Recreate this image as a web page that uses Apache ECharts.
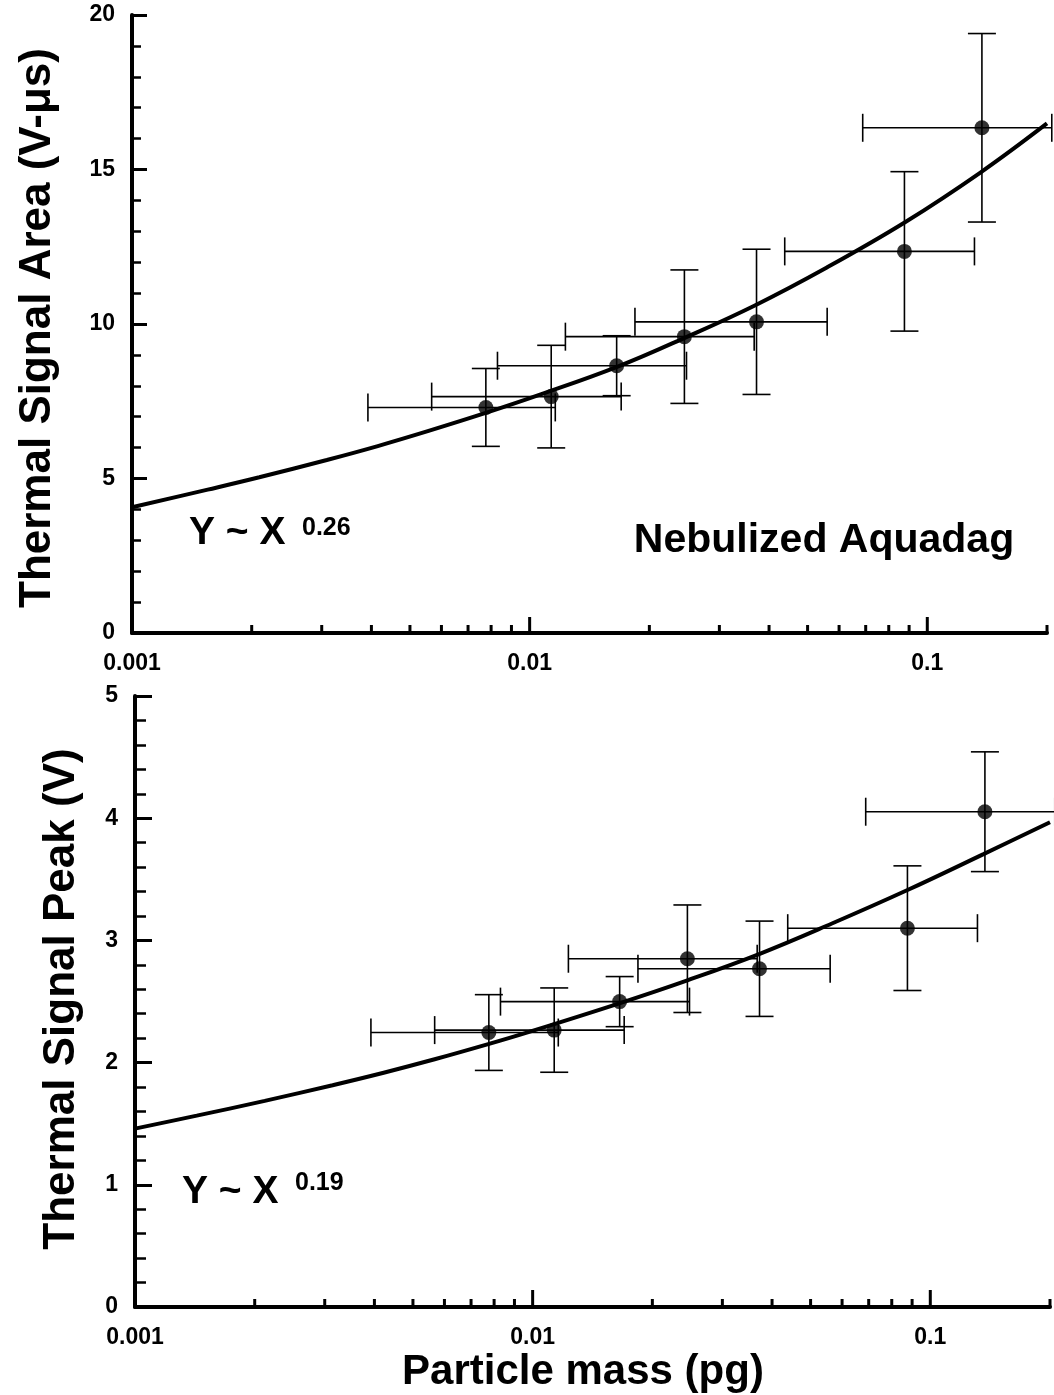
<!DOCTYPE html>
<html>
<head>
<meta charset="utf-8">
<script src="https://cdn.jsdelivr.net/npm/echarts@6/dist/echarts.min.js"></script>
<style>
  html, body { margin: 0; padding: 0; background: #fff; }
  #chart { width: 1054px; height: 1395px; }
</style>
</head>
<body>
<div id="chart"></div>
<script>
// particle mass (pg) and its +/- spread, same particles in both panels
const massValues = [0.00776, 0.01133, 0.01655, 0.0245, 0.0372, 0.0876, 0.1372]
const massErrors = [0.00384, 0.00566, 0.00825, 0.0122, 0.0188, 0.0438, 0.0684]

// top panel: thermal signal area (V-us)
const areaValues = [7.30, 7.65, 8.65, 9.59, 10.07, 12.35, 16.35]
const areaErrors = [1.26, 1.66, 0.97, 2.16, 2.35, 2.58, 3.05]
// fitted curve Y ~ X^0.26
const areaFitX = [0.001, 0.00155, 0.00209, 0.00309, 0.00415, 0.00557, 0.00779, 0.01044, 0.01665, 0.02462, 0.03684, 0.05576, 0.0881, 0.136, 0.2]
const areaFitY = [4.07, 4.64, 5.04, 5.60, 6.05, 6.54, 7.13, 7.68, 8.62, 9.56, 10.60, 11.82, 13.30, 14.90, 16.49]

// bottom panel: thermal signal peak (V)
const peakValues = [2.246, 2.266, 2.499, 2.850, 2.768, 3.100, 4.053]
const peakErrors = [0.31, 0.345, 0.205, 0.44, 0.39, 0.51, 0.49]
// fitted curve Y ~ X^0.19
const peakFitX = [0.001, 0.00143, 0.00212, 0.00314, 0.00422, 0.00567, 0.00777, 0.00962, 0.01652, 0.0245, 0.03725, 0.05658, 0.08764, 0.1361, 0.2]
const peakFitY = [1.46, 1.566, 1.687, 1.815, 1.917, 2.027, 2.153, 2.243, 2.485, 2.673, 2.89, 3.138, 3.412, 3.706, 3.967]

// log axis labels and ticks
const xLabelValues = [0.001, 0.01, 0.1]
const xLabels = ['0.001', '0.01', '0.1']
const xMajorTicks = [0.01, 0.1]
const xMinorTicks = [0.002, 0.003, 0.004, 0.005, 0.006, 0.007, 0.008, 0.009,
  0.02, 0.03, 0.04, 0.05, 0.06, 0.07, 0.08, 0.09, 0.2]

const FONT = '"Liberation Sans", Arial, Helvetica, sans-serif'

function massLabel (value) {
  const i = xLabelValues.findIndex(v => Math.abs(value / v - 1) < 1e-6)
  return i >= 0 ? xLabels[i] : ''
}

function xAxisOf (gridIndex) {
  return {
    gridIndex: gridIndex,
    type: 'log',
    logBase: 10,
    min: 0.001,
    max: 0.2,
    axisLine: { show: true, onZero: false, lineStyle: { color: '#000', width: 4 } },
    axisTick: { show: false },
    minorTick: { show: false },
    splitLine: { show: false },
    axisLabel: {
      formatter: massLabel,
      margin: 19,
      color: '#000',
      fontSize: 23,
      fontWeight: 'bold',
      fontFamily: FONT
    }
  }
}

function yAxisOf (gridIndex, max, interval, tickLen, minorLen) {
  return {
    gridIndex: gridIndex,
    type: 'value',
    min: 0,
    max: max,
    interval: interval,
    axisLine: { show: true, onZero: false, lineStyle: { color: '#000', width: 4 } },
    axisTick: { show: true, inside: true, length: tickLen, lineStyle: { color: '#000', width: 3 } },
    minorTick: { show: true, splitNumber: 5, length: minorLen, lineStyle: { color: '#000', width: 2.5 } },
    splitLine: { show: false },
    axisLabel: {
      margin: 17,
      color: '#000',
      fontSize: 23,
      fontWeight: 'bold',
      fontFamily: FONT
    }
  }
}

// error bars: [x, y, xErr, yErr]
function renderErrorBar (params, api) {
  const x = api.value(0)
  const y = api.value(1)
  const xe = api.value(2)
  const ye = api.value(3)
  const c = api.coord([x, y])
  const l = api.coord([x - xe, y])[0]
  const r = api.coord([x + xe, y])[0]
  const t = api.coord([x, y + ye])[1]
  const b = api.coord([x, y - ye])[1]
  const cap = 14
  const style = { stroke: '#000', lineWidth: 1.6 }
  const seg = (x1, y1, x2, y2) => ({ type: 'line', shape: { x1, y1, x2, y2 }, style })
  return {
    type: 'group',
    children: [
      seg(l, c[1], r, c[1]),
      seg(c[0], t, c[0], b),
      seg(l, c[1] - cap, l, c[1] + cap),
      seg(r, c[1] - cap, r, c[1] + cap),
      seg(c[0] - cap, t, c[0] + cap, t),
      seg(c[0] - cap, b, c[0] + cap, b)
    ]
  }
}

// log-axis tick marks drawn inward from the x axis: [x, 0, length]
function renderTick (params, api) {
  const p = api.coord([api.value(0), 0])
  const len = api.value(2)
  return {
    type: 'line',
    shape: { x1: p[0], y1: p[1], x2: p[0], y2: p[1] - len },
    style: { stroke: '#000', lineWidth: 3 }
  }
}

function panelSeries (idx, values, errors, fitX, fitY, majorLen, minorLen) {
  const ticks = xMajorTicks.map(v => [v, 0, majorLen]).concat(xMinorTicks.map(v => [v, 0, minorLen]))
  return [
    {
      type: 'custom',
      xAxisIndex: idx,
      yAxisIndex: idx,
      renderItem: renderTick,
      encode: { x: 0, y: 1 },
      silent: true,
      data: ticks
    },
    {
      type: 'line',
      xAxisIndex: idx,
      yAxisIndex: idx,
      smooth: 0.4,
      symbol: 'none',
      lineStyle: { color: '#000', width: 4 },
      silent: true,
      z: 3,
      data: fitX.map((x, i) => [x, fitY[i]])
    },
    {
      type: 'custom',
      xAxisIndex: idx,
      yAxisIndex: idx,
      renderItem: renderErrorBar,
      encode: { x: 0, y: 1 },
      silent: true,
      z: 4,
      data: massValues.map((x, i) => [x, values[i], massErrors[i], errors[i]])
    },
    {
      type: 'scatter',
      xAxisIndex: idx,
      yAxisIndex: idx,
      symbol: 'circle',
      symbolSize: 15,
      itemStyle: { color: '#000' },
      z: 5,
      data: massValues.map((x, i) => [x, values[i]])
    }
  ]
}

const chart = echarts.init(document.getElementById('chart'), null, { renderer: 'canvas' })

const option = {
  animation: false,
  backgroundColor: '#fff',
  textStyle: { fontFamily: FONT },
  grid: [
    { left: 132, right: 7, top: 15, height: 618 },
    { left: 135, right: 4, top: 696, height: 611 }
  ],
  xAxis: [xAxisOf(0), xAxisOf(1)],
  yAxis: [yAxisOf(0, 20, 5, 15, 9), yAxisOf(1, 5, 1, 17, 11)],
  series: [].concat(
    panelSeries(0, areaValues, areaErrors, areaFitX, areaFitY, 16, 8),
    panelSeries(1, peakValues, peakErrors, peakFitX, peakFitY, 17, 8)
  ),
  graphic: [
    {
      type: 'text', x: 38, y: 328, rotation: Math.PI / 2,
      style: { text: 'Thermal Signal Area (V-μs)', fontSize: 44, fontWeight: 'bold', fontFamily: FONT, fill: '#000', align: 'center', verticalAlign: 'middle' }
    },
    {
      type: 'text', x: 62, y: 999, rotation: Math.PI / 2,
      style: { text: 'Thermal Signal Peak (V)', fontSize: 44, fontWeight: 'bold', fontFamily: FONT, fill: '#000', align: 'center', verticalAlign: 'middle' }
    },
    {
      type: 'text', x: 583, y: 1372,
      style: { text: 'Particle mass (pg)', fontSize: 42, fontWeight: 'bold', fontFamily: FONT, fill: '#000', align: 'center', verticalAlign: 'middle' }
    },
    {
      type: 'text', x: 824, y: 541,
      style: { text: 'Nebulized Aquadag', fontSize: 41, fontWeight: 'bold', fontFamily: FONT, fill: '#000', align: 'center', verticalAlign: 'middle' }
    },
    {
      type: 'text', x: 189, y: 533,
      style: { text: 'Y ~ X', fontSize: 39, fontWeight: 'bold', fontFamily: FONT, fill: '#000', align: 'left', verticalAlign: 'middle' }
    },
    {
      type: 'text', x: 302, y: 528,
      style: { text: '0.26', fontSize: 25, fontWeight: 'bold', fontFamily: FONT, fill: '#000', align: 'left', verticalAlign: 'middle' }
    },
    {
      type: 'text', x: 182, y: 1192,
      style: { text: 'Y ~ X', fontSize: 39, fontWeight: 'bold', fontFamily: FONT, fill: '#000', align: 'left', verticalAlign: 'middle' }
    },
    {
      type: 'text', x: 295, y: 1183,
      style: { text: '0.19', fontSize: 25, fontWeight: 'bold', fontFamily: FONT, fill: '#000', align: 'left', verticalAlign: 'middle' }
    }
  ]
}

chart.setOption(option)
</script>
</body>
</html>
